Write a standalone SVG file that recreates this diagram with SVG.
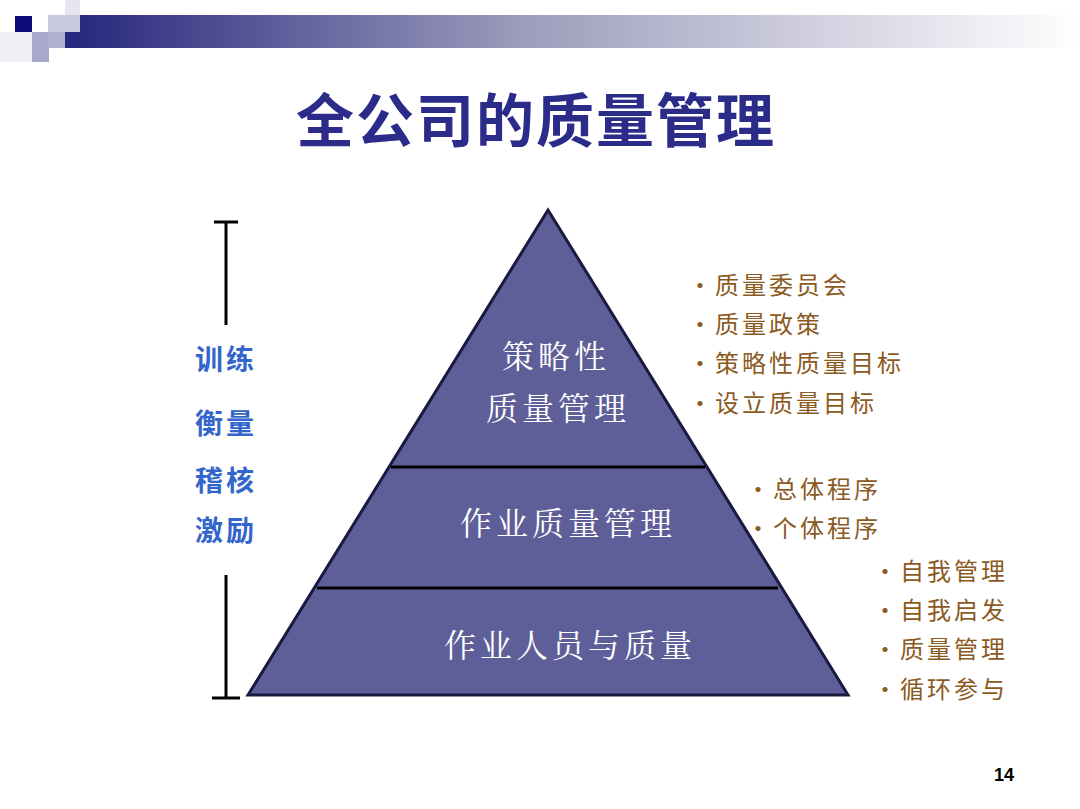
<svg xmlns="http://www.w3.org/2000/svg" width="1080" height="809" viewBox="0 0 1080 809">
<style>
.t{font-family:"Noto Sans CJK SC","Noto Sans",sans-serif}
.l{fill:#3366cc;font-size:28px;font-weight:bold;text-anchor:middle;letter-spacing:3px}
.r{fill:#8b5a1f;font-size:24px;letter-spacing:3px}
.w{fill:#ffffff;font-size:32px;text-anchor:middle;letter-spacing:4px;font-family:"Noto Serif CJK SC","Noto Sans CJK SC",serif}
.ln{stroke:#000;stroke-width:3}
</style>
<defs>
<linearGradient id="bar" x1="0" x2="1" y1="0" y2="0">
<stop offset="0" stop-color="#26267e"/><stop offset="0.45" stop-color="#9c9cbc"/><stop offset="1" stop-color="#ffffff"/>
</linearGradient>
</defs>
<rect width="1080" height="809" fill="#fff"/>
<g id="decor">
<rect x="65" y="15" width="1015" height="33" fill="url(#bar)"/>
<rect x="65" y="0" width="15" height="32" fill="#e6e6f0"/>
<rect x="48" y="15" width="32" height="17" fill="#c8c8de"/>
<rect x="15" y="16" width="17" height="16" fill="#0a0a7a"/>
<rect x="32" y="32" width="17" height="30" fill="#a8a8cc"/>
<rect x="48" y="32" width="17" height="16" fill="#b0b0d0"/>
<rect x="0" y="32" width="32" height="30" fill="#eef0f6"/>
</g>
<text class="t" x="536" y="142" font-size="58" font-weight="bold" fill="#2b2b8a" text-anchor="middle" letter-spacing="2">全公司的质量管理</text>
<g id="bracket">
<line class="ln" x1="226" y1="222" x2="226" y2="325"/>
<line class="ln" x1="226" y1="575" x2="226" y2="698"/>
<line class="ln" x1="214" y1="222" x2="238" y2="222"/>
<line class="ln" x1="212" y1="698" x2="240" y2="698"/>
</g>
<g id="left-labels" class="t">
<text class="l t" x="226" y="370">训练</text>
<text class="l t" x="226" y="434">衡量</text>
<text class="l t" x="226" y="491">稽核</text>
<text class="l t" x="226" y="541">激励</text>
</g>
<g id="pyramid">
<polygon points="548,210 848,695 248,695" fill="#5e5e98" stroke="#1a1a40" stroke-width="3"/>
</g>
<g id="connectors">
<line class="ln" x1="391" y1="467" x2="705" y2="467"/>
<line class="ln" x1="317" y1="588" x2="778" y2="588"/>
</g>
<g id="n1"><text class="w" x="556" y="368">策略性</text><text class="w" x="558" y="420">质量管理</text></g>
<g id="n2"><text class="w" x="568" y="535">作业质量管理</text></g>
<g id="n3"><text class="w" x="570" y="657">作业人员与质量</text></g>
<g id="r1" class="t">
<text class="r t" x="688" y="294">·质量委员会</text>
<text class="r t" x="688" y="333">·质量政策</text>
<text class="r t" x="688" y="372">·策略性质量目标</text>
<text class="r t" x="688" y="412">·设立质量目标</text>
</g>
<g id="r2" class="t">
<text class="r t" x="746" y="498">·总体程序</text>
<text class="r t" x="746" y="537">·个体程序</text>
</g>
<g id="r3" class="t">
<text class="r t" x="873" y="580">·自我管理</text>
<text class="r t" x="873" y="619">·自我启发</text>
<text class="r t" x="873" y="658">·质量管理</text>
<text class="r t" x="873" y="698">·循环参与</text>
</g>
<text x="1014" y="781" font-family="Liberation Sans,sans-serif" font-size="18" font-weight="bold" text-anchor="end">14</text>
</svg>
